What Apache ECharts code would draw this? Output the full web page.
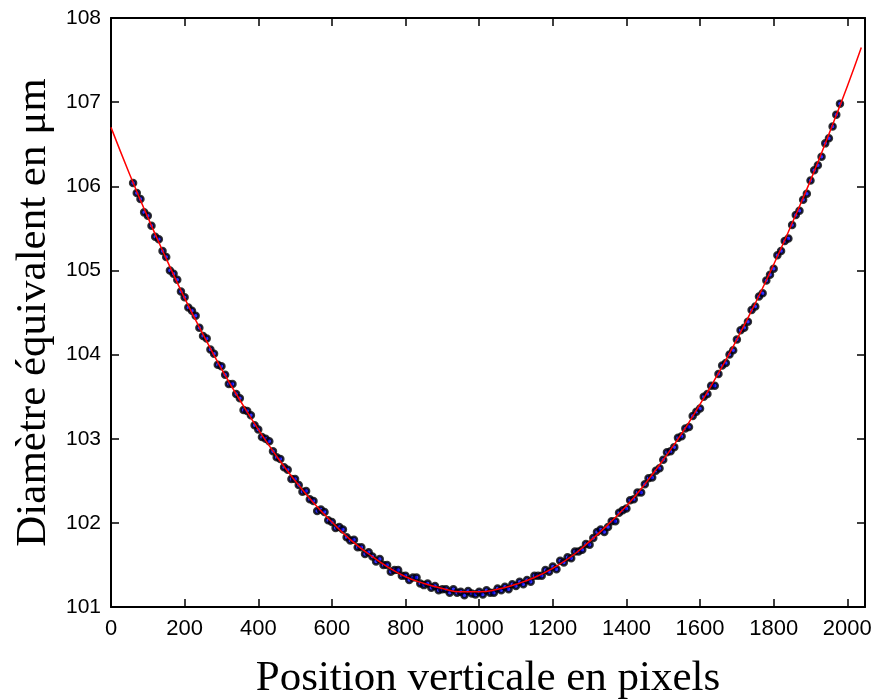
<!DOCTYPE html>
<html lang="fr">
<head>
    <meta charset="utf-8">
    <title>Diamètre équivalent</title>
    <script src="https://cdn.jsdelivr.net/npm/echarts@6.0.0/dist/echarts.min.js"></script>
    <style>
        html, body { margin: 0; padding: 0; background: #fff; }
        #chart { width: 877px; height: 700px; }
    </style>
</head>
<body>
    <div id="chart"></div>
    <script type="text/javascript">
        // tick labels
        var xTicks = [0, 200, 400, 600, 800, 1000, 1200, 1400, 1600, 1800, 2000];
        var yTicks = [101, 102, 103, 104, 105, 106, 107, 108];

        // mesures (points)
        var posX = [60, 70, 80, 90, 100, 110, 120, 130, 140, 150, 160, 170, 180, 190, 200, 210, 220, 230, 240, 250,
            260, 270, 280, 290, 300, 310, 320, 330, 340, 350, 360, 370, 380, 390, 400, 410, 420, 430, 440, 450,
            460, 470, 480, 490, 500, 510, 520, 530, 540, 550, 560, 570, 580, 590, 600, 610, 620, 630, 640, 650,
            660, 670, 680, 690, 700, 710, 720, 730, 740, 750, 760, 770, 780, 790, 800, 810, 820, 830, 840, 850,
            860, 870, 880, 890, 900, 910, 920, 930, 940, 950, 960, 970, 980, 990, 1000, 1010, 1020, 1030, 1040, 1050,
            1060, 1070, 1080, 1090, 1100, 1110, 1120, 1130, 1140, 1150, 1160, 1170, 1180, 1190, 1200, 1210, 1220, 1230, 1240, 1250,
            1260, 1270, 1280, 1290, 1300, 1310, 1320, 1330, 1340, 1350, 1360, 1370, 1380, 1390, 1400, 1410, 1420, 1430, 1440, 1450,
            1460, 1470, 1480, 1490, 1500, 1510, 1520, 1530, 1540, 1550, 1560, 1570, 1580, 1590, 1600, 1610, 1620, 1630, 1640, 1650,
            1660, 1670, 1680, 1690, 1700, 1710, 1720, 1730, 1740, 1750, 1760, 1770, 1780, 1790, 1800, 1810, 1820, 1830, 1840, 1850,
            1860, 1870, 1880, 1890, 1900, 1910, 1920, 1930, 1940, 1950, 1960, 1970, 1980];
        var diamY = [106.04, 105.92, 105.85, 105.69, 105.65, 105.53, 105.40, 105.37, 105.23, 105.16,
            105.00, 104.96, 104.89, 104.75, 104.68, 104.56, 104.52, 104.46, 104.32, 104.22,
            104.19, 104.06, 104.01, 103.88, 103.86, 103.76, 103.65, 103.65, 103.53, 103.48,
            103.34, 103.33, 103.28, 103.16, 103.11, 103.02, 103.00, 102.97, 102.85, 102.78,
            102.76, 102.66, 102.63, 102.52, 102.52, 102.45, 102.37, 102.38, 102.28, 102.26,
            102.14, 102.16, 102.13, 102.03, 102.01, 101.94, 101.95, 101.92, 101.83, 101.79,
            101.80, 101.71, 101.71, 101.63, 101.65, 101.60, 101.54, 101.57, 101.50, 101.50,
            101.42, 101.44, 101.44, 101.37, 101.37, 101.32, 101.35, 101.35, 101.28, 101.26,
            101.28, 101.23, 101.25, 101.20, 101.21, 101.21, 101.17, 101.21, 101.17, 101.18,
            101.14, 101.19, 101.16, 101.15, 101.18, 101.15, 101.20, 101.17, 101.17, 101.22,
            101.20, 101.24, 101.21, 101.27, 101.25, 101.30, 101.27, 101.32, 101.30, 101.37,
            101.37, 101.37, 101.44, 101.42, 101.48, 101.45, 101.55, 101.53, 101.59, 101.58,
            101.66, 101.66, 101.68, 101.75, 101.74, 101.82, 101.89, 101.92, 101.89, 101.95,
            102.02, 102.02, 102.12, 102.15, 102.17, 102.27, 102.28, 102.36, 102.36, 102.46,
            102.53, 102.54, 102.62, 102.65, 102.75, 102.84, 102.85, 102.90, 103.01, 103.03,
            103.12, 103.14, 103.27, 103.32, 103.36, 103.50, 103.53, 103.63, 103.63, 103.77,
            103.87, 103.90, 104.00, 104.05, 104.18, 104.29, 104.32, 104.39, 104.53, 104.57,
            104.69, 104.73, 104.88, 104.95, 105.02, 105.18, 105.23, 105.35, 105.38, 105.54,
            105.66, 105.71, 105.84, 105.91, 106.07, 106.19, 106.25, 106.35, 106.51, 106.57,
            106.71, 106.85, 106.98];

        // courbe ajustée (rouge)
        var fitX = [0, 50, 100, 150, 200, 250, 300, 350, 400, 450, 500, 550, 600, 650, 700, 750, 800, 850, 900, 950,
            1000, 1050, 1100, 1150, 1200, 1250, 1300, 1350, 1400, 1450, 1500, 1550, 1600, 1650, 1700, 1750, 1800, 1850, 1900, 1950,
            2000, 2038];
        var fitY = [106.70, 106.15, 105.63, 105.14, 104.67, 104.24, 103.83, 103.46, 103.11, 102.79,
            102.50, 102.24, 102.01, 101.80, 101.63, 101.48, 101.36, 101.28, 101.22, 101.18,
            101.18, 101.21, 101.27, 101.35, 101.46, 101.60, 101.78, 101.98, 102.20, 102.46,
            102.75, 103.06, 103.41, 103.78, 104.18, 104.61, 105.07, 105.56, 106.07, 106.62,
            107.19, 107.65];

        var sansFont = "'Liberation Sans', Arial, sans-serif";
        var serifFont = "'Liberation Serif', 'Times New Roman', serif";

        function frameAxis(pos, isX) {
            var ax = {
                type: 'value',
                position: pos,
                min: isX ? 0 : 101,
                max: isX ? 2048 : 108,
                axisLine: { show: true, onZero: false, lineStyle: { color: '#000', width: 2 } },
                axisTick: { show: true, inside: true, length: 8, customValues: isX ? xTicks : yTicks, lineStyle: { color: '#000', width: 1.5 } },
                axisLabel: { show: false },
                splitLine: { show: false }
            };
            return ax;
        }

        var xBottom = frameAxis('bottom', true);
        xBottom.axisLabel = {
            show: true, customValues: xTicks, fontFamily: sansFont, fontSize: 22, color: '#000', margin: 11,
            formatter: function (v) { return String(v); }
        };
        xBottom.name = 'Position verticale en pixels';
        xBottom.nameLocation = 'middle';
        xBottom.nameGap = 50;
        xBottom.nameTextStyle = { fontFamily: serifFont, fontSize: 43, color: '#000' };

        var yLeft = frameAxis('left', false);
        yLeft.axisLabel = {
            show: true, customValues: yTicks, fontFamily: sansFont, fontSize: 21, color: '#000', margin: 10,
            formatter: function (v) { return String(v); }
        };
        yLeft.name = 'Diamètre équivalent en μm';
        yLeft.nameLocation = 'middle';
        yLeft.nameGap = 55;
        yLeft.nameTextStyle = { fontFamily: serifFont, fontSize: 43, color: '#000' };

        var option = {
            backgroundColor: '#fff',
            animation: false,
            grid: { left: 111, right: 12, top: 18, bottom: 93, containLabel: false, outerBoundsMode: 'none' },
            xAxis: [xBottom, frameAxis('top', true)],
            yAxis: [yLeft, frameAxis('right', false)],
            series: [
                {
                    type: 'scatter',
                    xAxisIndex: 0,
                    yAxisIndex: 0,
                    symbol: 'circle',
                    symbolSize: 6,
                    itemStyle: { color: '#0000ff', borderColor: '#000', borderWidth: 2.5 },
                    data: posX.map(function (x, i) { return [x, diamY[i]]; }),
                    z: 2
                },
                {
                    type: 'line',
                    xAxisIndex: 0,
                    yAxisIndex: 0,
                    showSymbol: false,
                    smooth: true,
                    lineStyle: { color: '#ff0000', width: 1.5 },
                    data: fitX.map(function (x, i) { return [x, fitY[i]]; }),
                    z: 3
                }
            ]
        };

        var mychart = echarts.init(document.getElementById('chart'), null, { renderer: 'canvas' });
        mychart.setOption(option);
    </script>
</body>
</html>
